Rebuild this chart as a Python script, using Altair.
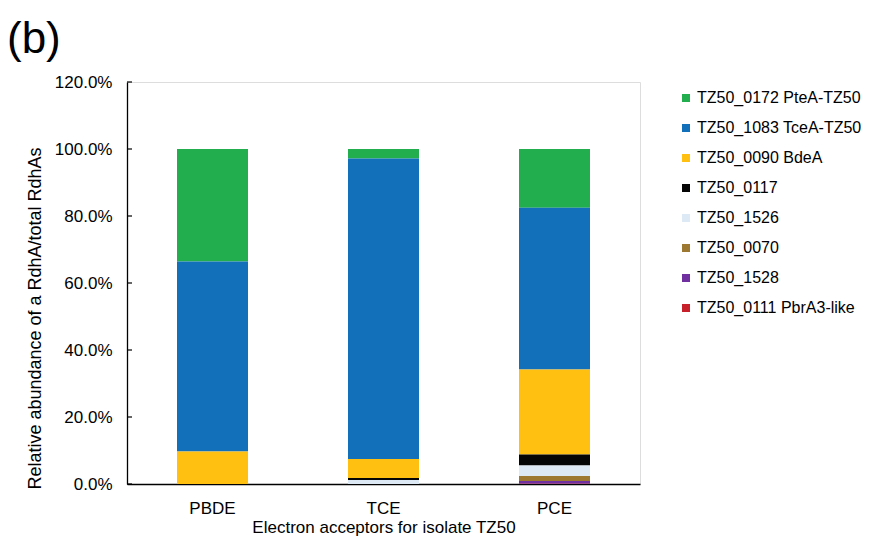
import altair as alt
import pandas as pd

acceptors = ["PBDE", "TCE", "PCE"]
series = [
    "TZ50_0172 PteA-TZ50",
    "TZ50_1083 TceA-TZ50",
    "TZ50_0090 BdeA",
    "TZ50_0117",
    "TZ50_1526",
    "TZ50_0070",
    "TZ50_1528",
    "TZ50_0111 PbrA3-like",
]
colors = ["#22AD4F", "#1170B9", "#FFC012", "#050505", "#DDEAF6", "#9C7830", "#7030A0", "#C8202A"]

# percent values per series, in order PBDE, TCE, PCE
pteA = [33.6, 2.8, 17.5]
tceA = [56.7, 89.7, 48.3]
bdeA = [9.7, 5.7, 25.4]
z0117 = [0.0, 0.6, 3.3]
z1526 = [0.0, 1.2, 3.1]
z0070 = [0.0, 0.0, 1.5]
z1528 = [0.0, 0.0, 0.8]
pbrA3 = [0.0, 0.0, 0.1]
values = [pteA, tceA, bdeA, z0117, z1526, z0070, z1528, pbrA3]

y_ticks = [0, 0.2, 0.4, 0.6, 0.8, 1.0, 1.2]

rows = []
for si, (name, vals) in enumerate(zip(series, values)):
    for a, v in zip(acceptors, vals):
        rows.append({"acceptor": a, "series": name, "value": v / 100.0,
                     "rank": len(series) - 1 - si})
df = pd.DataFrame(rows)
ticks_df = pd.DataFrame({"t": y_ticks})

font = "Liberation Sans"

bars = alt.Chart(df).mark_bar(size=71).encode(
    x=alt.X("acceptor:N", sort=acceptors,
            axis=alt.Axis(title="Electron acceptors for isolate TZ50", labelAngle=0,
                          ticks=False, labelPadding=16, titlePadding=3,
                          labelFontSize=17, titleFontSize=17, labelFont=font,
                          titleFont=font, titleFontWeight="normal",
                          labelColor="#000", titleColor="#000",
                          domainColor="#000", domainWidth=1.3)),
    y=alt.Y("value:Q", stack="zero",
            scale=alt.Scale(domain=[0, 1.2], nice=False),
            axis=alt.Axis(title="Relative abundance of a RdhA/total RdhAs",
                          format=".1%", values=y_ticks, ticks=False, grid=False,
                          labelPadding=15, titleX=-83, titleY=236,
                          labelFontSize=17, titleFontSize=18, labelFont=font,
                          titleFont=font, titleFontWeight="normal",
                          labelColor="#000", titleColor="#000",
                          domainColor="#000", domainWidth=1.3)),
    color=alt.Color("series:N",
                    scale=alt.Scale(domain=series, range=colors),
                    legend=alt.Legend(title=None, orient="none", legendX=551, legendY=8,
                                      symbolType="square", symbolSize=64,
                                      symbolStrokeWidth=0,
                                      labelFontSize=16, labelFont=font,
                                      labelColor="#000", rowPadding=14,
                                      labelOffset=3, padding=0, labelLimit=300)),
    order=alt.Order("rank:Q", sort="ascending"),
)

tick_marks = alt.Chart(ticks_df).mark_rule(color="#000", strokeWidth=1.2).encode(
    y=alt.Y("t:Q"),
    x=alt.value(0),
    x2=alt.value(5),
)

chart = alt.layer(bars, tick_marks).properties(
    width=513, height=402,
    title=alt.TitleParams("(b)", anchor="start", frame="group", fontSize=44,
                          fontWeight="normal", font=font, color="#000",
                          dx=-120, offset=11),
    autosize=alt.AutoSizeParams(type="none"),
    padding={"left": 119, "top": 74, "right": 226, "bottom": 52},
).configure_view(stroke="#000", strokeWidth=1.3).configure(background="white")

chart.save("out.html", embed_options={"renderer": "svg", "actions": False})
